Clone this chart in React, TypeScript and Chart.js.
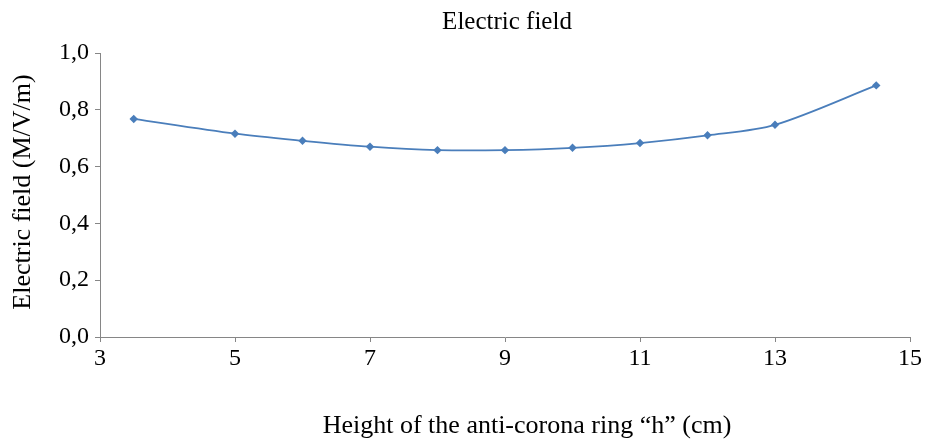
import React, { useEffect, useRef } from "react";
import { Chart, registerables } from "chart.js";

Chart.register(...registerables);

const heights = [3.5, 5, 6, 7, 8, 9, 10, 11, 12, 13, 14.5];
const fieldValues = [0.768, 0.716, 0.691, 0.67, 0.658, 0.658, 0.666, 0.683, 0.71, 0.747, 0.886];
const chartTitle = "Electric field";
const xTitle = "Height of the anti-corona ring \u201Ch\u201D (cm)";
const yTitle = "Electric field (M/V/m)";
const FONT = "'Liberation Serif', 'Times New Roman', serif";

const titlesPlugin = {
  id: "customTitles",
  afterDraw(chart: any) {
    const { ctx, chartArea } = chart;
    ctx.save();
    ctx.fillStyle = "#000";
    ctx.textAlign = "center";
    ctx.textBaseline = "middle";
    ctx.font = `25px ${FONT}`;
    ctx.fillText(chartTitle, (chartArea.left + chartArea.right) / 2 + 2, 22);
    ctx.font = `26px ${FONT}`;
    ctx.fillText(xTitle, (chartArea.left + chartArea.right) / 2 + 22, 426);
    ctx.translate(23, (chartArea.top + chartArea.bottom) / 2 - 3);
    ctx.rotate(-Math.PI / 2);
    ctx.fillText(yTitle, 0, 0);
    ctx.restore();
  },
};

export default function App() {
  const ref = useRef<HTMLCanvasElement>(null);
  useEffect(() => {
    document.body.style.margin = "0";
    const chart = new Chart(ref.current!, {
      type: "line",
      data: {
        datasets: [
          {
            data: heights.map((h, i) => ({ x: h, y: fieldValues[i] })),
            borderColor: "#4A7EBB",
            backgroundColor: "#4A7EBB",
            borderWidth: 1.75,
            pointStyle: "rectRot",
            pointRadius: 3,
            pointHoverRadius: 3,
            tension: 0.3,
            fill: false,
          },
        ],
      },
      options: {
        animation: false,
        responsive: true,
        maintainAspectRatio: false,
        layout: { padding: { top: 53, right: 17, left: 0, bottom: 0 } },
        plugins: { legend: { display: false }, title: { display: false }, tooltip: { enabled: false } },
        scales: {
          x: {
            type: "linear",
            min: 3,
            max: 15,
            ticks: { stepSize: 2, color: "#000", font: { family: FONT, size: 24 }, padding: 2, maxRotation: 0 },
            grid: { drawOnChartArea: false, drawTicks: true, tickLength: 5, color: "#868686" },
            border: { color: "#868686", width: 1 },
            afterFit: (s: any) => { s.height = 107; },
          },
          y: {
            type: "linear",
            min: 0,
            max: 1,
            ticks: {
              stepSize: 0.2,
              color: "#000",
              font: { family: FONT, size: 24 },
              padding: 6,
              callback: (v: any) => Number(v).toFixed(1).replace(".", ","),
            },
            grid: { drawOnChartArea: false, drawTicks: true, tickLength: 5, color: "#868686" },
            border: { color: "#868686", width: 1 },
            afterFit: (s: any) => { s.width = 100; },
          },
        },
      },
      plugins: [titlesPlugin],
    });
    return () => chart.destroy();
  }, []);
  return (
    <div style={{ position: "absolute", left: 0, top: 0, width: 927, height: 444, background: "#fff" }}>
      <canvas ref={ref} />
    </div>
  );
}
